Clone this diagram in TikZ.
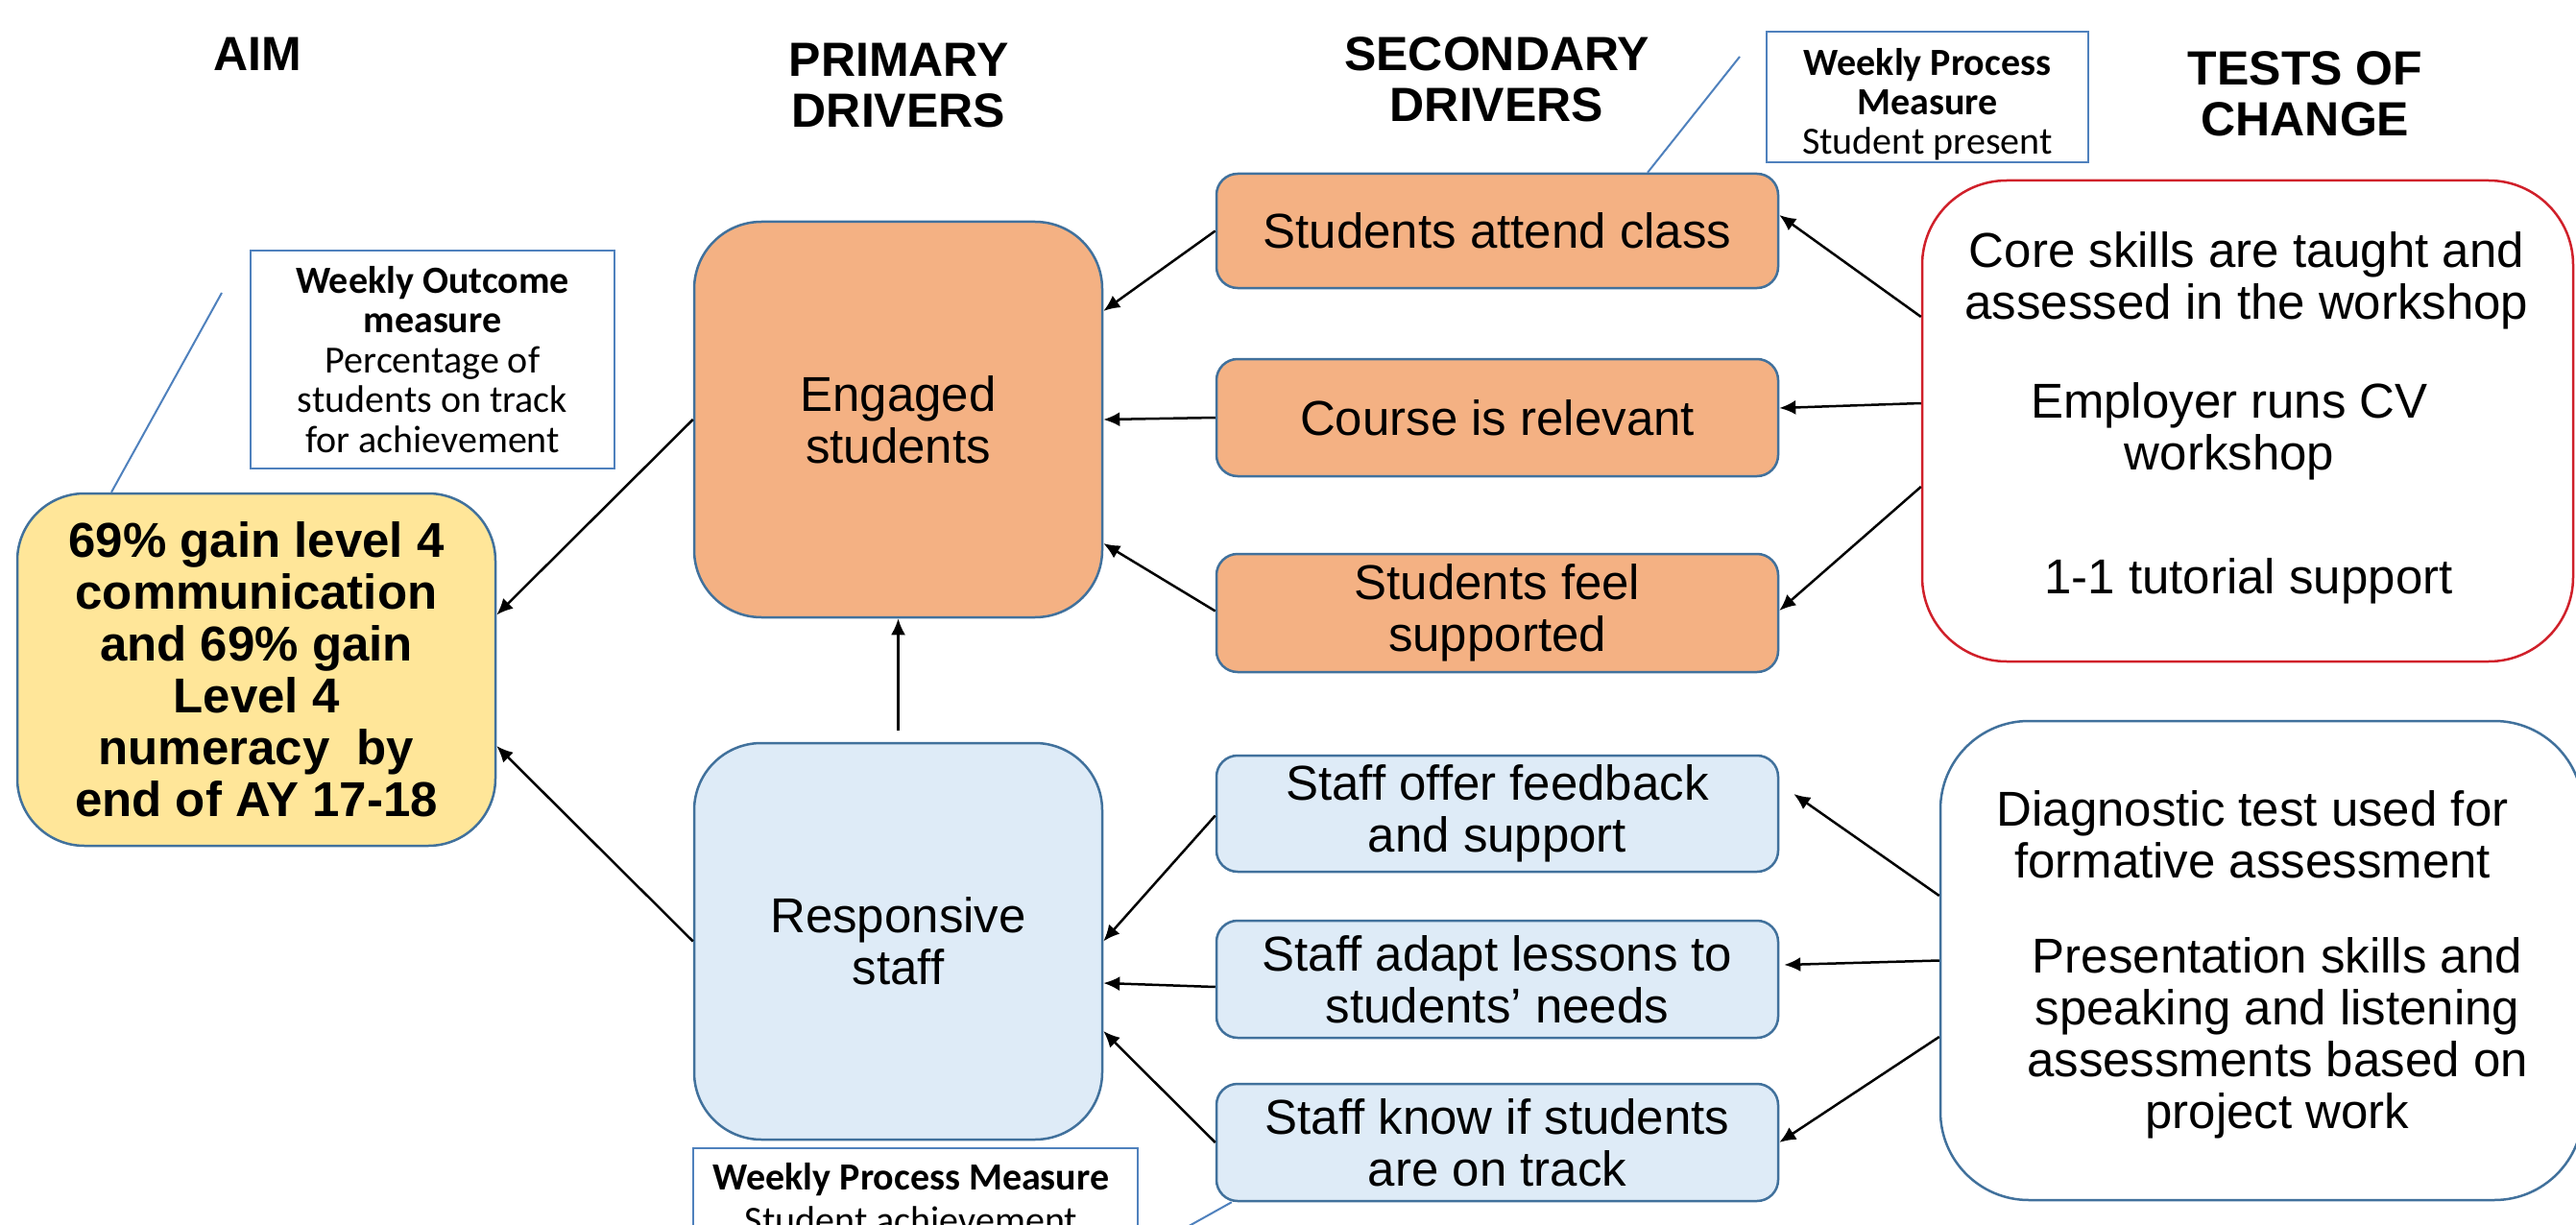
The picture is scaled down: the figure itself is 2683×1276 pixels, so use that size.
\documentclass[tikz,border=0pt]{standalone}
\usepackage{fontspec}
\setmainfont{Liberation Sans}
\newfontfamily\calib{Carlito}
\usetikzlibrary{calc,arrows.meta}
\definecolor{orangefill}{RGB}{244,177,131}
\definecolor{bluefill}{RGB}{222,235,247}
\definecolor{yellowfill}{RGB}{255,230,153}
\definecolor{edgeblue}{RGB}{65,113,156}
\definecolor{measblue}{RGB}{79,129,189}
\definecolor{redline}{RGB}{208,32,42}
\begin{document}
\begin{tikzpicture}[x=1pt,y=-1pt,
  box/.style={draw=edgeblue, line width=2.5pt, inner sep=0pt, align=center,
    font=\fontsize{51}{54}\selectfont},
  primbox/.style={box, rounded corners=70pt, minimum width=425pt},
  secbox/.style={box, rounded corners=22pt, minimum width=585pt},
  testbox/.style={draw, line width=2.5pt, inner sep=0pt, fill=white},
  meas/.style={draw=measblue, line width=2pt, inner sep=0pt, fill=white, align=center,
    font=\calib\fontsize{40}{41.5}\selectfont},
  head/.style={align=center, inner sep=0pt, font=\bfseries\fontsize{50}{53}\selectfont},
  body/.style={align=center, inner sep=0pt, font=\fontsize{51}{54}\selectfont},
  arr/.style={-{Latex[length=17pt,width=15pt]}, line width=2.5pt, black},
  link/.style={draw=measblue, line width=2pt}
]
\path[use as bounding box] (0,0) rectangle (2683,1276);
\clip (0,0) rectangle (2683,1276);
\fill[white] (0,0) rectangle (2683,1276);

% headers
\node[head] (hAim) at (268,56) {AIM};
\node[head] (hPrim) at (936,89) {PRIMARY\\DRIVERS};
\node[head] (hSec) at (1559,83) {SECONDARY\\DRIVERS};
\node[head] (hTest) at (2401,98) {TESTS OF\\CHANGE};

% aim
\node[box, fill=yellowfill, rounded corners=70pt, minimum width=498pt, minimum height=367pt,
  font=\bfseries\fontsize{51}{54}\selectfont] (aim) at (267,697.5)
  {69\% gain level 4\\communication\\and 69\% gain\\Level 4\\numeracy\ \ by\\end of AY 17-18};

% outcome measure
\node[meas, minimum width=379pt, minimum height=227pt] (outc) at (450.5,374.5)
  {\textbf{Weekly Outcome}\\\textbf{measure}\\Percentage of\\students on track\\for achievement};
\coordinate (outcTail) at (231,305);

% primary drivers
\node[primbox, fill=orangefill, minimum height=412pt] (eng) at (935.5,437) {Engaged\\students};
\node[primbox, fill=bluefill, minimum height=413pt] (resp) at (935.5,980.5) {Responsive\\staff};

% secondary drivers
\node[secbox, fill=orangefill, minimum height=119pt] (s1) at (1559.5,240.5) {Students attend class};
\node[secbox, fill=orangefill, minimum height=122pt] (s2) at (1559.5,435) {Course is relevant};
\node[secbox, fill=orangefill, minimum height=123pt] (s3) at (1559.5,638.5) {Students feel\\supported};
\node[secbox, fill=bluefill, minimum height=121pt] (b1) at (1559.5,847.5) {Staff offer feedback\\and support};
\node[secbox, fill=bluefill, minimum height=122pt] (b2) at (1559.5,1020) {Staff adapt lessons to\\students’ needs};
\node[secbox, fill=bluefill, minimum height=122pt] (b3) at (1559.5,1190) {Staff know if students\\are on track};

% process measures
\node[meas, minimum width=335pt, minimum height=136pt] (procT) at (2007.5,101) {};
\node[inner sep=0pt, align=center, font=\calib\fontsize{40}{41}\selectfont] (procTtxt) at (2007.5,109)
  {\textbf{Weekly Process}\\\textbf{Measure}\\Student present};
\coordinate (procTail) at (1812,59);

\node[meas, minimum width=463pt, minimum height=110pt] (procB) at (953.5,1251) {};
\node[inner sep=0pt, font=\calib\bfseries\fontsize{40}{41}\selectfont] (procBt1) at (949,1229) {Weekly Process Measure};
\node[inner sep=0pt, font=\calib\fontsize{40}{41}\selectfont] (procBt2) at (949,1271) {Student achievement};
\coordinate (procBTail) at (1215,1290);

% tests of change
\node[testbox, draw=redline, rounded corners=88pt, minimum width=678pt, minimum height=501pt] (testR) at (2341,438.5) {};
\node[body] (tR1) at (2340,292) {Core skills are taught and\\assessed in the workshop};
\node[body] (tR2) at (2322,449) {Employer runs CV\\workshop};
\node[body] (tR3) at (2342,605) {1-1 tutorial support};

\node[testbox, draw=edgeblue, rounded corners=92pt, minimum width=669pt, minimum height=499pt] (testB) at (2355.5,1000.5) {};
\node[body] (tB1) at (2346,869.5) {Diagnostic test used for\\formative assessment};
\node[body] (tB2) at (2372,1081) {Presentation skills and\\speaking and listening\\assessments based on\\project work};

% measure links
\draw[link] (outcTail) -- ([xshift=-151pt]aim.north);
\draw[link] (procTail) -- ([xshift=156.5pt]s1.north);
\draw[link] ([xshift=17pt]b3.south west) -- (procBTail);

% arrows to aim
\draw[arr] (eng.west) -- ([yshift=57pt]aim.east);
\draw[arr] (resp.west) -- ([yshift=-79.5pt]aim.east);
\draw[arr] ([yshift=12pt]resp.north) -- (eng.south);

% secondary to primary
\draw[arr] (s1.west) -- ([yshift=113pt]eng.east);
\draw[arr] (s2.west) -- (eng.east);
\draw[arr] ([yshift=2pt]s3.west) -- ([yshift=-129pt]eng.east);
\draw[arr] ([yshift=-2pt]b1.west) -- (resp.east);
\draw[arr] ([yshift=-8pt]b2.west) -- ([yshift=-43.5pt]resp.east);
\draw[arr] (b3.west) -- ([yshift=-93.5pt]resp.east);

% tests to secondary
\draw[arr] ([yshift=108.5pt]testR.west) -- ([yshift=16.5pt]s1.east);
\draw[arr] ([yshift=18.5pt]testR.west) -- ([yshift=10pt]s2.east);
\draw[arr] ([yshift=-68.5pt]testR.west) -- ([yshift=2.5pt]s3.east);
\draw[arr] ([yshift=67.5pt]testB.west) -- ([xshift=15pt,yshift=20.5pt]b1.east);
\draw[arr] (testB.west) -- ([xshift=5pt,yshift=15pt]b2.east);
\draw[arr] ([yshift=-79.5pt]testB.west) -- (b3.east);
\end{tikzpicture}
\end{document}
